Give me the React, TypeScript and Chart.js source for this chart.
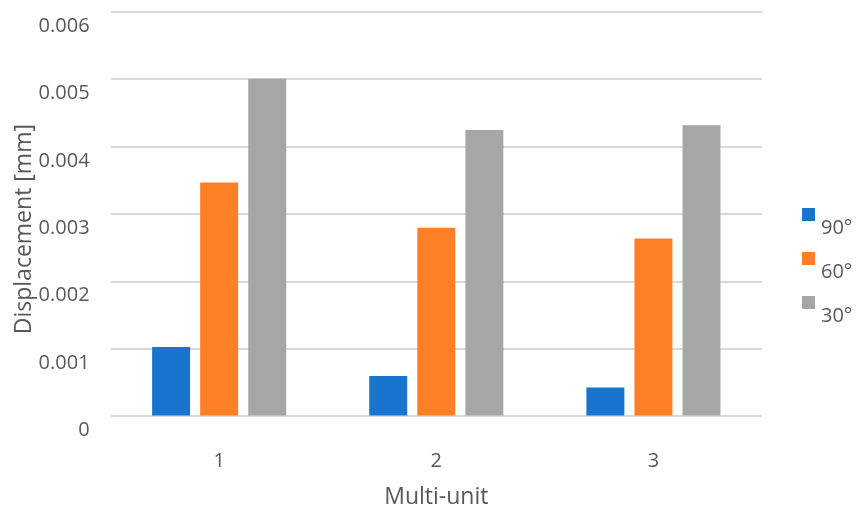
import React, { useEffect, useRef } from "react";
import { Chart, registerables } from "chart.js";

Chart.register(...registerables);

const categories = ["1", "2", "3"];
const seriesNames = ["90°", "60°", "30°"];
const values90 = [0.00103, 0.0006, 0.00043];
const values60 = [0.00347, 0.0028, 0.00264];
const values30 = [0.00501, 0.00425, 0.00432];
const seriesColors = ["#1874CD", "#FF7F27", "#A6A6A6"];

const FONT = "'Open Sans', 'Noto Sans', sans-serif";
const TEXT = "#595959";
const CLEAR = "rgba(0,0,0,0)";

// Legend on the right: square swatch with its label set slightly lower
const sideLegend = {
  id: "sideLegend",
  afterDraw(chart: Chart) {
    const ctx = chart.ctx;
    const x = 802;
    const top = 208;
    const step = 44;
    ctx.save();
    chart.data.datasets.forEach((ds, i) => {
      const y = top + i * step;
      ctx.fillStyle = ds.backgroundColor as string;
      ctx.fillRect(x, y, 13, 13);
      ctx.fillStyle = TEXT;
      ctx.font = `20px ${FONT}`;
      ctx.textAlign = "left";
      ctx.textBaseline = "middle";
      ctx.fillText(ds.label as string, x + 19, y + 20);
    });
    ctx.restore();
  },
};

export default function App() {
  const ref = useRef<HTMLCanvasElement | null>(null);

  useEffect(() => {
    if (!ref.current) return;
    const seriesValues = [values90, values60, values30];
    const chart = new Chart(ref.current, {
      type: "bar",
      data: {
        labels: categories,
        datasets: seriesNames.map((name, i) => ({
          label: name,
          data: seriesValues[i],
          backgroundColor: seriesColors[i],
          borderWidth: 0,
          categoryPercentage: 0.664,
          barPercentage: 0.79,
        })),
      },
      options: {
        animation: false,
        responsive: true,
        maintainAspectRatio: false,
        layout: { padding: { left: 11, right: 95, top: 2, bottom: 0 } },
        plugins: {
          legend: { display: false },
          tooltip: { enabled: false },
        },
        scales: {
          x: {
            grid: {
              display: true,
              color: CLEAR,
              drawTicks: true,
              tickLength: 33,
              tickColor: CLEAR,
            },
            border: { display: false },
            ticks: {
              color: TEXT,
              font: { family: FONT, size: 20 },
              padding: 0,
            },
            title: {
              display: true,
              text: "Multi-unit",
              color: TEXT,
              font: { family: FONT, size: 23 },
              padding: { top: 10, bottom: 0 },
            },
          },
          y: {
            min: 0,
            max: 0.006,
            grid: {
              color: "#D9D9D9",
              lineWidth: 2,
              drawTicks: true,
              tickLength: 21,
              tickColor: CLEAR,
            },
            border: { display: false },
            ticks: {
              stepSize: 0.001,
              color: TEXT,
              font: { family: FONT, size: 20 },
              padding: 0,
              labelOffset: 14,
              callback: (v) => (Number(v) === 0 ? "0" : Number(v).toFixed(3)),
            },
            title: {
              display: true,
              // trailing spaces sit the title a little below the axis middle
              text: "Displacement [mm]     ",
              color: TEXT,
              font: { family: FONT, size: 23 },
              padding: { top: 0, bottom: 0 },
            },
          },
        },
      },
      plugins: [sideLegend],
    });
    return () => chart.destroy();
  }, []);

  return (
    <div
      style={{
        position: "fixed",
        left: 0,
        top: 0,
        width: 857,
        height: 511,
        background: "#fff",
      }}
    >
      <canvas ref={ref} />
    </div>
  );
}
